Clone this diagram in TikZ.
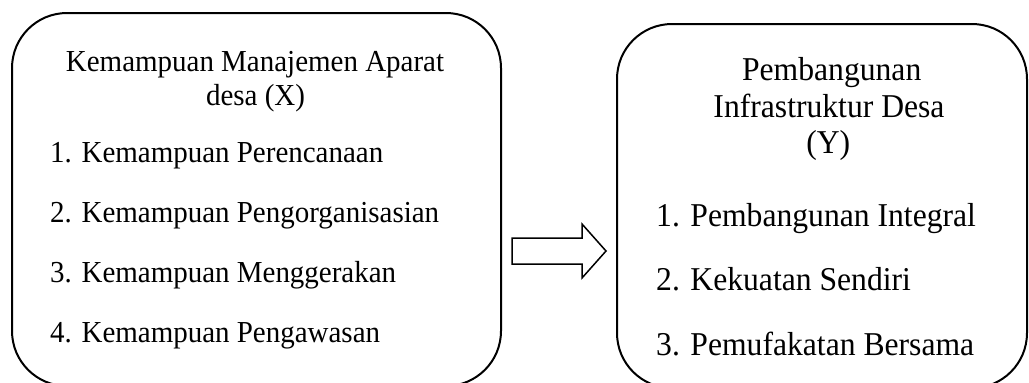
\documentclass[tikz,border=0pt]{standalone}
\usepackage{fontspec}
\setmainfont{Liberation Serif}
\newfontfamily\panelserif{Liberation Serif}[FakeStretch=0.95]
\usetikzlibrary{calc}
\begin{document}
\begin{tikzpicture}[x=1pt,y=-1pt,
  panel/.style={draw, line width=2pt, rounded corners=55pt, inner sep=0pt},
  lefttxt/.style={font=\panelserif\fontsize{30.5}{34}\selectfont, inner sep=0pt},
  righttxt/.style={font=\panelserif\fontsize{33.3}{37}\selectfont, inner sep=0pt},
  blockarrow/.style={draw, line width=1.5pt, line join=miter}]
\useasboundingbox (0,0) rectangle (1029,383);

% the two panels
\node[panel, minimum width=489pt, minimum height=373pt] (lbox) at (256.5,199.5) {};
\node[panel, minimum width=410pt, minimum height=364pt] (rbox) at (822,206) {};

% left panel: variable X and its indicators
\node[lefttxt, anchor=base] (lh1) at (255,71) {Kemampuan Manajemen Aparat};
\node[lefttxt, anchor=base] (lh2) at (255.5,105) {desa (X)};
\node[lefttxt, anchor=base west] (l1) at (50,162) {1. Kemampuan Perencanaan};
\node[lefttxt, anchor=base west] (l2) at (50,222) {2. Kemampuan Pengorganisasian};
\node[lefttxt, anchor=base west] (l3) at (50,282) {3. Kemampuan Menggerakan};
\node[lefttxt, anchor=base west] (l4) at (50,342) {4. Kemampuan Pengawasan};

% right panel: variable Y and its indicators
\node[righttxt, anchor=base] (rh1) at (831.7,80) {Pembangunan};
\node[righttxt, anchor=base] (rh2) at (829,117.3) {Infrastruktur Desa};
\node[righttxt, anchor=base] (rh3) at (828.3,153.3) {(Y)};
\node[righttxt, anchor=base west] (r1) at (656,226.7) {1. Pembangunan Integral};
\node[righttxt, anchor=base west] (r2) at (656,290) {2. Kekuatan Sendiri};
\node[righttxt, anchor=base west] (r3) at (656,355) {3. Pemufakatan Bersama};

% block arrow from X to Y
\coordinate (a0) at ($(lbox.east)+(10,51.5)$);
\coordinate (a1) at ($(rbox.west)+(-10,45)$);
\draw[blockarrow] ($(a0)+(0,-13)$) -- ($(a1)+(-24,-13)$) -- ($(a1)+(-24,-27)$)
  -- (a1) -- ($(a1)+(-24,27)$) -- ($(a1)+(-24,13)$) -- ($(a0)+(0,13)$) -- cycle;
\end{tikzpicture}
\end{document}
